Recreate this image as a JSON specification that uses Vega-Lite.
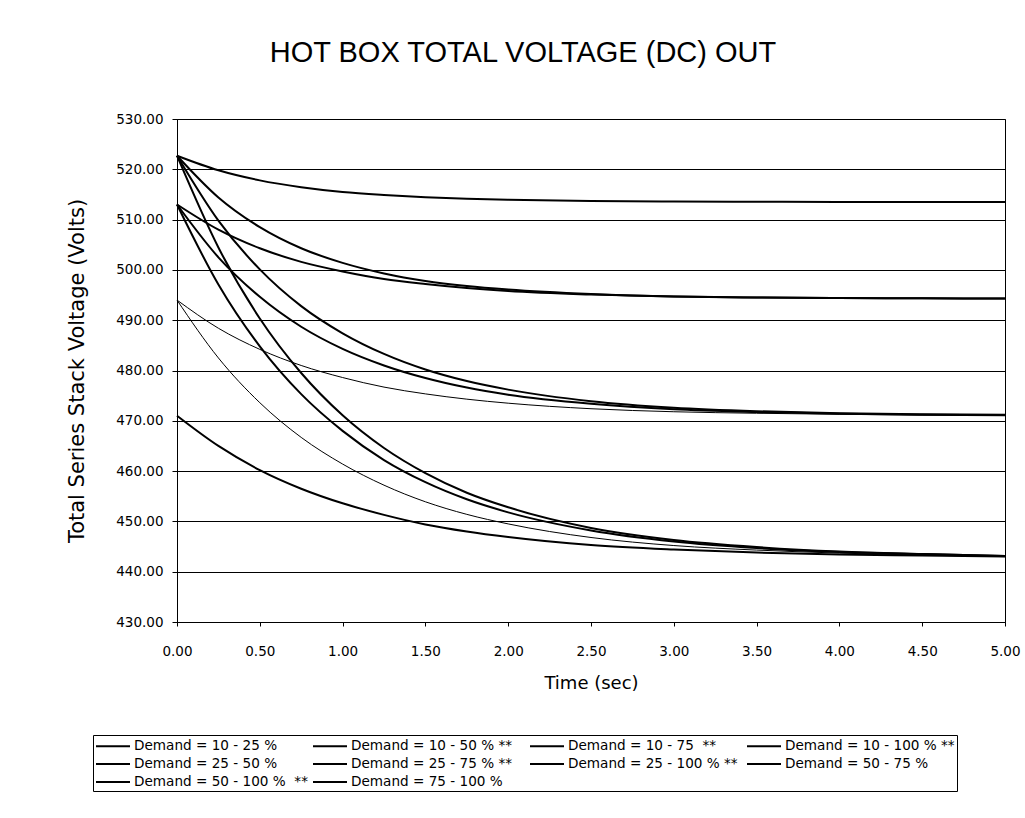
{
  "$schema": "https://vega.github.io/schema/vega-lite/v6.json",
  "width": 828,
  "height": 503,
  "autosize": {"type": "none"},
  "padding": {"left": 177, "top": 119, "right": 20, "bottom": 196},
  "background": "white",
  "title": {"text": "HOT BOX TOTAL VOLTAGE (DC) OUT", "font": "Liberation Sans", "fontSize": 29, "fontWeight": "normal", "color": "black", "anchor": "middle", "dx": -68, "offset": 21, "baseline": "alphabetic"},
  "data": {"values": [
    {"s": "Demand = 10 - 25 %", "t": 0, "v": 522.7},
    {"s": "Demand = 10 - 25 %", "t": 0.25, "v": 519.8},
    {"s": "Demand = 10 - 25 %", "t": 0.5, "v": 517.8},
    {"s": "Demand = 10 - 25 %", "t": 0.75, "v": 516.45},
    {"s": "Demand = 10 - 25 %", "t": 1, "v": 515.5},
    {"s": "Demand = 10 - 25 %", "t": 1.25, "v": 514.9},
    {"s": "Demand = 10 - 25 %", "t": 1.5, "v": 514.45},
    {"s": "Demand = 10 - 25 %", "t": 1.75, "v": 514.15},
    {"s": "Demand = 10 - 25 %", "t": 2, "v": 513.95},
    {"s": "Demand = 10 - 25 %", "t": 2.5, "v": 513.7},
    {"s": "Demand = 10 - 25 %", "t": 3, "v": 513.6},
    {"s": "Demand = 10 - 25 %", "t": 3.5, "v": 513.55},
    {"s": "Demand = 10 - 25 %", "t": 4, "v": 513.5},
    {"s": "Demand = 10 - 25 %", "t": 4.5, "v": 513.5},
    {"s": "Demand = 10 - 25 %", "t": 5, "v": 513.5},

    {"s": "Demand = 10 - 50 % **", "t": 0, "v": 522.7},
    {"s": "Demand = 10 - 50 % **", "t": 0.25, "v": 514.4},
    {"s": "Demand = 10 - 50 % **", "t": 0.5, "v": 508.5},
    {"s": "Demand = 10 - 50 % **", "t": 0.75, "v": 504.3},
    {"s": "Demand = 10 - 50 % **", "t": 1, "v": 501.4},
    {"s": "Demand = 10 - 50 % **", "t": 1.25, "v": 499.3},
    {"s": "Demand = 10 - 50 % **", "t": 1.5, "v": 497.8},
    {"s": "Demand = 10 - 50 % **", "t": 1.75, "v": 496.8},
    {"s": "Demand = 10 - 50 % **", "t": 2, "v": 496.1},
    {"s": "Demand = 10 - 50 % **", "t": 2.5, "v": 495.2},
    {"s": "Demand = 10 - 50 % **", "t": 3, "v": 494.7},
    {"s": "Demand = 10 - 50 % **", "t": 3.5, "v": 494.5},
    {"s": "Demand = 10 - 50 % **", "t": 4, "v": 494.4},
    {"s": "Demand = 10 - 50 % **", "t": 4.5, "v": 494.35},
    {"s": "Demand = 10 - 50 % **", "t": 5, "v": 494.3},

    {"s": "Demand = 10 - 75\u00a0 **", "t": 0, "v": 522.7},
    {"s": "Demand = 10 - 75\u00a0 **", "t": 0.25, "v": 509.8},
    {"s": "Demand = 10 - 75\u00a0 **", "t": 0.5, "v": 500.1},
    {"s": "Demand = 10 - 75\u00a0 **", "t": 0.75, "v": 492.8},
    {"s": "Demand = 10 - 75\u00a0 **", "t": 1, "v": 487.4},
    {"s": "Demand = 10 - 75\u00a0 **", "t": 1.25, "v": 483.3},
    {"s": "Demand = 10 - 75\u00a0 **", "t": 1.5, "v": 480.2},
    {"s": "Demand = 10 - 75\u00a0 **", "t": 1.75, "v": 477.9},
    {"s": "Demand = 10 - 75\u00a0 **", "t": 2, "v": 476.2},
    {"s": "Demand = 10 - 75\u00a0 **", "t": 2.5, "v": 473.9},
    {"s": "Demand = 10 - 75\u00a0 **", "t": 3, "v": 472.6},
    {"s": "Demand = 10 - 75\u00a0 **", "t": 3.5, "v": 471.9},
    {"s": "Demand = 10 - 75\u00a0 **", "t": 4, "v": 471.5},
    {"s": "Demand = 10 - 75\u00a0 **", "t": 4.5, "v": 471.3},
    {"s": "Demand = 10 - 75\u00a0 **", "t": 5, "v": 471.2},

    {"s": "Demand = 10 - 100 % **", "t": 0, "v": 522.7},
    {"s": "Demand = 10 - 100 % **", "t": 0.25, "v": 504.45},
    {"s": "Demand = 10 - 100 % **", "t": 0.5, "v": 490.34},
    {"s": "Demand = 10 - 100 % **", "t": 0.75, "v": 479.5},
    {"s": "Demand = 10 - 100 % **", "t": 1, "v": 471.1},
    {"s": "Demand = 10 - 100 % **", "t": 1.25, "v": 464.6},
    {"s": "Demand = 10 - 100 % **", "t": 1.5, "v": 459.6},
    {"s": "Demand = 10 - 100 % **", "t": 1.75, "v": 455.7},
    {"s": "Demand = 10 - 100 % **", "t": 2, "v": 452.8},
    {"s": "Demand = 10 - 100 % **", "t": 2.5, "v": 448.7},
    {"s": "Demand = 10 - 100 % **", "t": 3, "v": 446.3},
    {"s": "Demand = 10 - 100 % **", "t": 3.5, "v": 444.9},
    {"s": "Demand = 10 - 100 % **", "t": 4, "v": 444.0},
    {"s": "Demand = 10 - 100 % **", "t": 4.5, "v": 443.5},
    {"s": "Demand = 10 - 100 % **", "t": 5, "v": 443.1},

    {"s": "Demand = 25 - 50 %", "t": 0, "v": 513.0},
    {"s": "Demand = 25 - 50 %", "t": 0.25, "v": 508.0},
    {"s": "Demand = 25 - 50 %", "t": 0.5, "v": 504.3},
    {"s": "Demand = 25 - 50 %", "t": 0.75, "v": 501.6},
    {"s": "Demand = 25 - 50 %", "t": 1, "v": 499.7},
    {"s": "Demand = 25 - 50 %", "t": 1.25, "v": 498.2},
    {"s": "Demand = 25 - 50 %", "t": 1.5, "v": 497.2},
    {"s": "Demand = 25 - 50 %", "t": 1.75, "v": 496.4},
    {"s": "Demand = 25 - 50 %", "t": 2, "v": 495.8},
    {"s": "Demand = 25 - 50 %", "t": 2.5, "v": 495.1},
    {"s": "Demand = 25 - 50 %", "t": 3, "v": 494.7},
    {"s": "Demand = 25 - 50 %", "t": 3.5, "v": 494.5},
    {"s": "Demand = 25 - 50 %", "t": 4, "v": 494.4},
    {"s": "Demand = 25 - 50 %", "t": 4.5, "v": 494.35},
    {"s": "Demand = 25 - 50 %", "t": 5, "v": 494.3},

    {"s": "Demand = 25 - 75 % **", "t": 0, "v": 513.0},
    {"s": "Demand = 25 - 75 % **", "t": 0.25, "v": 502.5},
    {"s": "Demand = 25 - 75 % **", "t": 0.5, "v": 494.65},
    {"s": "Demand = 25 - 75 % **", "t": 0.75, "v": 488.7},
    {"s": "Demand = 25 - 75 % **", "t": 1, "v": 484.3},
    {"s": "Demand = 25 - 75 % **", "t": 1.25, "v": 481.0},
    {"s": "Demand = 25 - 75 % **", "t": 1.5, "v": 478.5},
    {"s": "Demand = 25 - 75 % **", "t": 1.75, "v": 476.6},
    {"s": "Demand = 25 - 75 % **", "t": 2, "v": 475.2},
    {"s": "Demand = 25 - 75 % **", "t": 2.5, "v": 473.4},
    {"s": "Demand = 25 - 75 % **", "t": 3, "v": 472.3},
    {"s": "Demand = 25 - 75 % **", "t": 3.5, "v": 471.75},
    {"s": "Demand = 25 - 75 % **", "t": 4, "v": 471.4},
    {"s": "Demand = 25 - 75 % **", "t": 4.5, "v": 471.2},
    {"s": "Demand = 25 - 75 % **", "t": 5, "v": 471.1},

    {"s": "Demand = 25 - 100 % **", "t": 0, "v": 513.0},
    {"s": "Demand = 25 - 100 % **", "t": 0.25, "v": 497.1},
    {"s": "Demand = 25 - 100 % **", "t": 0.5, "v": 484.8},
    {"s": "Demand = 25 - 100 % **", "t": 0.75, "v": 475.3},
    {"s": "Demand = 25 - 100 % **", "t": 1, "v": 468.0},
    {"s": "Demand = 25 - 100 % **", "t": 1.25, "v": 462.2},
    {"s": "Demand = 25 - 100 % **", "t": 1.5, "v": 457.8},
    {"s": "Demand = 25 - 100 % **", "t": 1.75, "v": 454.4},
    {"s": "Demand = 25 - 100 % **", "t": 2, "v": 451.8},
    {"s": "Demand = 25 - 100 % **", "t": 2.5, "v": 448.2},
    {"s": "Demand = 25 - 100 % **", "t": 3, "v": 446.0},
    {"s": "Demand = 25 - 100 % **", "t": 3.5, "v": 444.7},
    {"s": "Demand = 25 - 100 % **", "t": 4, "v": 443.9},
    {"s": "Demand = 25 - 100 % **", "t": 4.5, "v": 443.5},
    {"s": "Demand = 25 - 100 % **", "t": 5, "v": 443.1},

    {"s": "Demand = 50 - 75 %", "t": 0, "v": 494.0},
    {"s": "Demand = 50 - 75 %", "t": 0.25, "v": 488.4},
    {"s": "Demand = 50 - 75 %", "t": 0.5, "v": 484.2},
    {"s": "Demand = 50 - 75 %", "t": 0.75, "v": 481.0},
    {"s": "Demand = 50 - 75 %", "t": 1, "v": 478.6},
    {"s": "Demand = 50 - 75 %", "t": 1.25, "v": 476.7},
    {"s": "Demand = 50 - 75 %", "t": 1.5, "v": 475.35},
    {"s": "Demand = 50 - 75 %", "t": 1.75, "v": 474.3},
    {"s": "Demand = 50 - 75 %", "t": 2, "v": 473.5},
    {"s": "Demand = 50 - 75 %", "t": 2.5, "v": 472.4},
    {"s": "Demand = 50 - 75 %", "t": 3, "v": 471.8},
    {"s": "Demand = 50 - 75 %", "t": 3.5, "v": 471.5},
    {"s": "Demand = 50 - 75 %", "t": 4, "v": 471.3},
    {"s": "Demand = 50 - 75 %", "t": 4.5, "v": 471.15},
    {"s": "Demand = 50 - 75 %", "t": 5, "v": 471.1},

    {"s": "Demand = 50 - 100 %\u00a0 **", "t": 0, "v": 494.0},
    {"s": "Demand = 50 - 100 %\u00a0 **", "t": 0.25, "v": 482.5},
    {"s": "Demand = 50 - 100 %\u00a0 **", "t": 0.5, "v": 473.6},
    {"s": "Demand = 50 - 100 %\u00a0 **", "t": 0.75, "v": 466.7},
    {"s": "Demand = 50 - 100 %\u00a0 **", "t": 1, "v": 461.4},
    {"s": "Demand = 50 - 100 %\u00a0 **", "t": 1.25, "v": 457.2},
    {"s": "Demand = 50 - 100 %\u00a0 **", "t": 1.5, "v": 453.9},
    {"s": "Demand = 50 - 100 %\u00a0 **", "t": 1.75, "v": 451.4},
    {"s": "Demand = 50 - 100 %\u00a0 **", "t": 2, "v": 449.5},
    {"s": "Demand = 50 - 100 %\u00a0 **", "t": 2.5, "v": 446.8},
    {"s": "Demand = 50 - 100 %\u00a0 **", "t": 3, "v": 445.2},
    {"s": "Demand = 50 - 100 %\u00a0 **", "t": 3.5, "v": 444.3},
    {"s": "Demand = 50 - 100 %\u00a0 **", "t": 4, "v": 443.7},
    {"s": "Demand = 50 - 100 %\u00a0 **", "t": 4.5, "v": 443.3},
    {"s": "Demand = 50 - 100 %\u00a0 **", "t": 5, "v": 443.0},

    {"s": "Demand = 75 - 100 %", "t": 0, "v": 471.0},
    {"s": "Demand = 75 - 100 %", "t": 0.25, "v": 465.0},
    {"s": "Demand = 75 - 100 %", "t": 0.5, "v": 460.2},
    {"s": "Demand = 75 - 100 %", "t": 0.75, "v": 456.5},
    {"s": "Demand = 75 - 100 %", "t": 1, "v": 453.6},
    {"s": "Demand = 75 - 100 %", "t": 1.25, "v": 451.3},
    {"s": "Demand = 75 - 100 %", "t": 1.5, "v": 449.4},
    {"s": "Demand = 75 - 100 %", "t": 1.75, "v": 448.0},
    {"s": "Demand = 75 - 100 %", "t": 2, "v": 446.9},
    {"s": "Demand = 75 - 100 %", "t": 2.5, "v": 445.3},
    {"s": "Demand = 75 - 100 %", "t": 3, "v": 444.4},
    {"s": "Demand = 75 - 100 %", "t": 3.5, "v": 443.8},
    {"s": "Demand = 75 - 100 %", "t": 4, "v": 443.4},
    {"s": "Demand = 75 - 100 %", "t": 4.5, "v": 443.2},
    {"s": "Demand = 75 - 100 %", "t": 5, "v": 443.0}
  ]},
  "mark": {"type": "line", "interpolate": "monotone"},
  "encoding": {
    "x": {
      "field": "t", "type": "quantitative",
      "scale": {"domain": [0, 5], "nice": false},
      "axis": {
        "title": "Time (sec)",
        "values": [0, 0.5, 1, 1.5, 2, 2.5, 3, 3.5, 4, 4.5, 5],
        "format": ".2f",
        "grid": false,
        "tickSize": 4,
        "labelPadding": 18,
        "titlePadding": 17,
        "labelFont": "DejaVu Sans", "labelFontSize": 13.5, "labelColor": "black",
        "titleFont": "DejaVu Sans", "titleFontSize": 18, "titleFontWeight": "normal", "titleColor": "black",
        "domainColor": "black", "tickColor": "black", "labelFlush": false
      }
    },
    "y": {
      "field": "v", "type": "quantitative",
      "scale": {"domain": [430, 530], "nice": false, "zero": false},
      "axis": {
        "title": "Total Series Stack Voltage (Volts)",
        "values": [430, 440, 450, 460, 470, 480, 490, 500, 510, 520, 530],
        "format": ".2f",
        "grid": true, "gridColor": "black", "gridWidth": 1, "gridOpacity": 1,
        "tickSize": 5,
        "labelPadding": 9,
        "titlePadding": 28,
        "labelFont": "DejaVu Sans", "labelFontSize": 13.5, "labelColor": "black",
        "titleFont": "DejaVu Sans", "titleFontSize": 21, "titleFontWeight": "normal", "titleColor": "black",
        "domainColor": "black", "tickColor": "black", "labelFlush": false
      }
    },
    "color": {
      "field": "s", "type": "nominal",
      "scale": {
        "domain": ["Demand = 10 - 25 %", "Demand = 10 - 50 % **", "Demand = 10 - 75\u00a0 **", "Demand = 10 - 100 % **", "Demand = 25 - 50 %", "Demand = 25 - 75 % **", "Demand = 25 - 100 % **", "Demand = 50 - 75 %", "Demand = 50 - 100 %\u00a0 **", "Demand = 75 - 100 %"],
        "range": ["black", "black", "black", "black", "black", "black", "black", "black", "black", "black"]
      },
      "legend": {
        "title": null,
        "orient": "none",
        "legendX": -84,
        "legendY": 616,
        "direction": "horizontal",
        "columns": 4,
        "gridAlign": "all",
        "symbolType": "M-1,0H3.25",
        "symbolSize": 256,
        "symbolStrokeWidth": 2,
        "symbolStrokeColor": "black",
        "symbolFillColor": "transparent",
        "symbolOffset": 0,
        "labelFont": "DejaVu Sans",
        "labelFontSize": 13.6,
        "labelColor": "black",
        "labelLimit": 300,
        "labelOffset": 21,
        "padding": 2,
        "rowPadding": 2,
        "columnPadding": 1,
        "strokeColor": "black",
        "fillColor": "white"
      }
    },
    "strokeWidth": {
      "condition": {"test": "indexof(datum.s, 'Demand = 50') === 0", "value": 1},
      "value": 2
    }
  },
  "config": {
    "view": {"stroke": "black", "strokeWidth": 1},
    "axis": {"domainWidth": 1, "tickWidth": 1}
  }
}
